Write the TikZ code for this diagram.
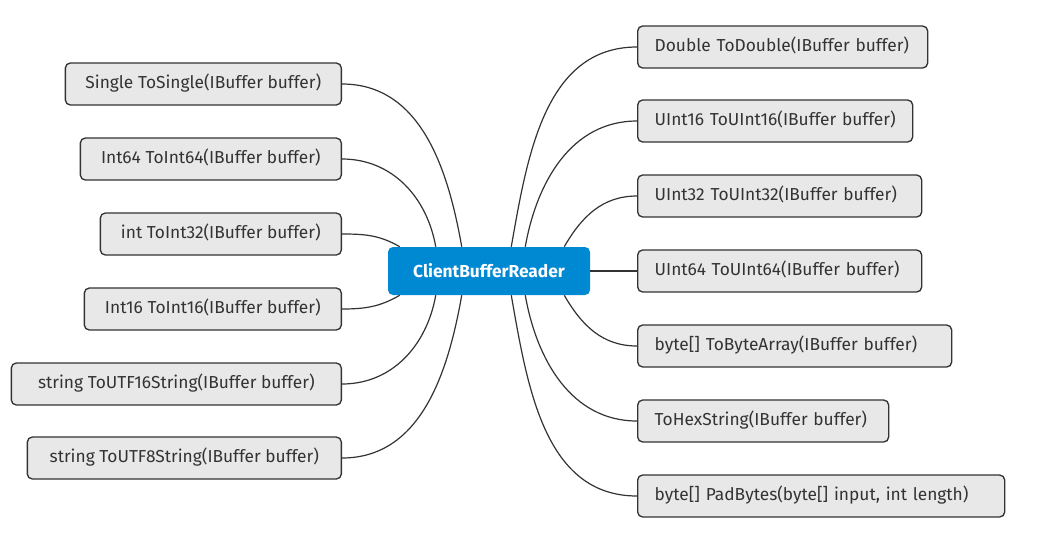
\documentclass[tikz,border=0pt]{standalone}
\usepackage{fontspec}
\setmainfont{Fira Sans}
\usetikzlibrary{calc}
\newcommand\leftedge{342}
\newcommand\rightedge{637}
\definecolor{boxfill}{HTML}{E8E8E8}
\definecolor{boxline}{HTML}{333333}
\definecolor{readerblue}{HTML}{0089D3}
\tikzset{
  method/.style={draw=boxline,fill=boxfill,line width=1pt,rounded corners=3.75pt,
    minimum height=31.5pt,inner xsep=12.75pt,text=boxline,
    font=\fontsize{13}{15}\selectfont},
  leftmethod/.style={method,anchor=east,minimum width=#1},
  rightmethod/.style={method,anchor=west,text width=#1,align=left},
  branch/.style={draw=boxline,line width=0.9pt},
}

\begin{document}
\begin{tikzpicture}[x=0.75pt,y=-0.75pt]
  \useasboundingbox (0,0) rectangle (1041,543);

  \node[fill=readerblue,rounded corners=3.75pt,minimum width=151.5pt,minimum height=36pt,
    text=white,font=\fontsize{13}{15}\selectfont\bfseries] (reader) at (489,271) {ClientBufferReader};

  % left side
  \node[leftmethod=207pt] (single) at (\leftedge,84) {Single ToSingle(IBuffer buffer)\strut};
  \node[leftmethod=195.75pt] (int64) at (\leftedge,159) {Int64 ToInt64(IBuffer buffer)\strut};
  \node[leftmethod=180.75pt] (int32) at (\leftedge,234) {int ToInt32(IBuffer buffer)\strut};
  \node[leftmethod=192.75pt] (int16) at (\leftedge,309) {Int16 ToInt16(IBuffer buffer)\strut};
  \node[leftmethod=247.5pt] (utf16) at (\leftedge,384) {string ToUTF16String(IBuffer buffer)\strut};
  \node[leftmethod=235.5pt] (utf8) at (\leftedge,458) {string ToUTF8String(IBuffer buffer)\strut};

  % right side
  \node[rightmethod=192pt] (double) at (\rightedge,47) {Double ToDouble(IBuffer buffer)\strut};
  \node[rightmethod=180.75pt] (uint16) at (\rightedge,121) {UInt16 ToUInt16(IBuffer buffer)\strut};
  \node[rightmethod=187.5pt] (uint32) at (\rightedge,196) {UInt32 ToUInt32(IBuffer buffer)\strut};
  \node[rightmethod=187.5pt] (uint64) at (\rightedge,271) {UInt64 ToUInt64(IBuffer buffer)\strut};
  \node[rightmethod=210pt] (bytearray) at (\rightedge,346) {byte[] ToByteArray(IBuffer buffer)\strut};
  \node[rightmethod=162.75pt] (hexstring) at (\rightedge,421) {ToHexString(IBuffer buffer)\strut};
  \node[rightmethod=249.75pt] (padbytes) at (\rightedge,496) {byte[] PadBytes(byte[] input, int length)\strut};

  % branches
  \draw[branch] (single.east) to[out=0,in=100] ($(reader.north west)+(74,0)$);
  \draw[branch] (int64.east) to[out=0,in=100] ($(reader.north west)+(48,0)$);
  \draw[branch] (int32.east) to[out=0,in=150] ($(reader.north west)+(12,0)$);
  \draw[branch] (int16.east) to[out=0,in=-150] ($(reader.south west)+(12,0)$);
  \draw[branch] (utf16.east) to[out=0,in=-100] ($(reader.south west)+(48,0)$);
  \draw[branch] (utf8.east) to[out=0,in=-100] ($(reader.south west)+(74,0)$);

  \draw[branch] (double.west) to[out=180,in=80] ($(reader.north east)+(-79,0)$);
  \draw[branch] (uint16.west) to[out=180,in=80] ($(reader.north east)+(-65,0)$);
  \draw[branch] (uint32.west) to[out=180,in=60] ($(reader.north east)+(-26,0)$);
  \draw[branch] (reader.east) -- (uint64.west);
  \draw[branch] (bytearray.west) to[out=180,in=-60] ($(reader.south east)+(-26,0)$);
  \draw[branch] (hexstring.west) to[out=180,in=-80] ($(reader.south east)+(-65,0)$);
  \draw[branch] (padbytes.west) to[out=180,in=-80] ($(reader.south east)+(-79,0)$);
\end{tikzpicture}
\end{document}
